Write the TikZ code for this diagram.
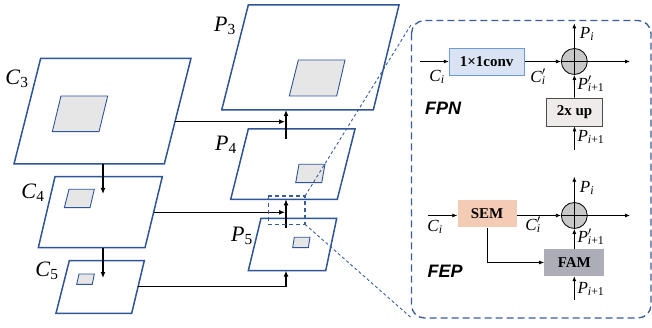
\documentclass[tikz,border=0pt]{standalone}
\usepackage{fontspec}
\setmainfont{Liberation Serif}
\setsansfont{Liberation Sans}
\usetikzlibrary{arrows.meta}
\definecolor{pblue}{HTML}{2F5597}
\definecolor{dblue}{HTML}{3B5C9A}
\definecolor{sqgray}{HTML}{E6E6E6}
\definecolor{convfill}{HTML}{DAE3F3}
\definecolor{convdraw}{HTML}{6F9BD8}
\definecolor{upfill}{HTML}{EFEBEB}
\definecolor{semfill}{HTML}{F4CBB5}
\definecolor{famfill}{HTML}{ADADB8}
\definecolor{circfill}{HTML}{C8C8C8}
\newcommand{\biglbl}[2]{{\fontsize{22}{22}\selectfont\textit{#1}\textsubscript{#2}}}
\newcommand{\sml}[2]{{\fontsize{17}{17}\selectfont\textit{#1}\textsubscript{#2}}}
\newcommand{\smlp}[2]{{\fontsize{17}{17}\selectfont\textit{#1}\rlap{\textsuperscript{$\prime$}}\textsubscript{#2}}}
\begin{document}
\begin{tikzpicture}[x=1pt,y=-1pt,
  plane/.style={draw=pblue,line width=1.5pt,fill=white,line join=miter},
  inner/.style={draw=pblue,line width=0.9pt,fill=sqgray},
  link/.style={draw=black,line width=1.2pt,-{Latex[length=6pt,width=5pt]}},
  flow/.style={draw=black,line width=0.8pt,-{Latex[length=5pt,width=4pt]}},
  opbox/.style={font=\fontsize{15}{15}\selectfont\bfseries,inner sep=0pt,anchor=center},
  tag/.style={font=\sffamily\bfseries\itshape\fontsize{18}{18}\selectfont},
  zoomline/.style={draw=dblue,line width=0.9pt,dash pattern=on 3pt off 2.5pt}]
\useasboundingbox (0,0) rectangle (652,328);

% ---------- C planes ----------
\draw[plane] (40.7,58.3) -- (191,58.3) -- (164.3,164) -- (14,164) -- cycle;
\draw[inner] (61,96) -- (107.7,96) -- (99,131.7) -- (52.3,131.7) -- cycle;
\draw[plane] (55,176.7) -- (162.3,176.7) -- (145,247.7) -- (38.3,247.7) -- cycle;
\draw[inner] (69,189.3) -- (94.3,189.3) -- (90,207.7) -- (64.3,207.7) -- cycle;
\draw[plane] (69.3,260.7) -- (144.3,260.7) -- (131.7,313.3) -- (56,313.3) -- cycle;
\draw[inner] (79,274) -- (94.3,274) -- (92.3,284.3) -- (76.7,284.3) -- cycle;

\node (lc3) at (17,79) {\biglbl{C}{3}};
\node (lc4) at (33,193) {\biglbl{C}{4}};
\node (lc5) at (47,271) {\biglbl{C}{5}};

\coordinate (c3b) at (103,164);
\coordinate (c4t) at (103,194);
\coordinate (c4b) at (103,247.7);
\coordinate (c5t) at (103,278);
\draw[link] (c3b) -- (c4t);
\draw[link] (c4b) -- (c5t);

% ---------- P planes ----------
\draw[plane] (248.3,5) -- (399,5) -- (373.3,110) -- (221.7,110) -- cycle;
\draw[inner] (298.3,60) -- (345,60) -- (336.7,96) -- (289.3,96) -- cycle;
\draw[plane] (248.3,129) -- (355,129) -- (337.3,199.3) -- (230.7,199.3) -- cycle;
\draw[inner] (299,164.3) -- (325,164.3) -- (321.7,182.7) -- (295.7,182.7) -- cycle;
\draw[plane] (261,218.3) -- (336.7,218.3) -- (325.7,270.7) -- (248.3,270.7) -- cycle;
\draw[inner] (294.3,237.3) -- (310,237.3) -- (308.3,247.7) -- (292.7,247.7) -- cycle;

\node (lp3) at (225,26) {\biglbl{P}{3}};
\node (lp4) at (226,145) {\biglbl{P}{4}};
\node (lp5) at (242,236) {\biglbl{P}{5}};

% lateral connections
\coordinate (c3r) at (175,121.7);
\coordinate (p3j) at (285,121.7);
\coordinate (c4r) at (153.6,212.3);
\coordinate (p4j) at (285,212.3);
\coordinate (c5r) at (138.1,286.7);
\coordinate (p5b) at (286,270.7);
\coordinate (p4u) at (286,139.3);
\coordinate (p3b) at (286,110);
\coordinate (p5u) at (286,228.3);
\coordinate (p4b) at (286,199.3);
\draw[link] (c3r) -- (p3j);
\draw[link] (p4u) -- (p3b);
\draw[link] (c4r) -- (p4j);
\draw[link] (p5u) -- (p4b);
\draw[link] (c5r) -| (p5b);

% small dashed box and zoom lines
\draw[draw=dblue,line width=1.1pt,dash pattern=on 4pt off 3pt] (268.3,196) rectangle (305,224.3);
\coordinate (zb1) at (305,196);
\coordinate (zb2) at (305,224.3);
\coordinate (zp1) at (411.5,24);
\coordinate (zp2) at (411.5,318);
\draw[zoomline] (zb1) -- (zp1);
\draw[zoomline] (zb2) -- (zp2);

% big dashed panel
\draw[draw=dblue,line width=1.3pt,dash pattern=on 7pt off 4pt,rounded corners=13pt] (411.5,20.5) rectangle (651,318);

% ---------- FPN ----------
\node[opbox,draw=convdraw,fill=convfill,line width=0.8pt,minimum width=75pt,minimum height=27pt] (conv) at (486.7,61.5) {1×1conv};
\node[circle,draw=black,fill=circfill,line width=0.8pt,minimum size=26pt,inner sep=0pt] (add1) at (574.3,61.5) {};
\draw[line width=0.8pt] (add1.north) -- (add1.south) (add1.west) -- (add1.east);
\node[opbox,draw=black!70,fill=upfill,line width=0.8pt,minimum width=56pt,minimum height=28pt] (up) at (574.5,112) {2x up};
\coordinate (in1) at (420,61.5);
\coordinate (out1) at (630,61.5);
\coordinate (top1) at (574.3,23.3);
\coordinate (bot1) at (574.5,150);
\draw[flow] (in1) -- (conv);
\draw[flow] (conv) -- (add1);
\draw[flow] (add1) -- (out1);
\draw[flow] (add1) -- (top1);
\draw[flow] (up) -- (add1);
\draw[flow] (bot1) -- (up);
\node (fci) at (437,77) {\sml{C}{\textit{i}}};
\node (fcp) at (538,77) {\smlp{C}{\textit{i}}};
\node (fpi) at (587,34) {\sml{P}{\textit{i}}};
\node (fpp) at (591,84) {\smlp{P}{\textit{i}+1}};
\node (fpn) at (591,137) {\sml{P}{\textit{i}+1}};
\node[tag] (fpnt) at (443,108) {FPN};

% ---------- FEP ----------
\node[opbox,fill=semfill,minimum width=59pt,minimum height=27pt] (sem) at (487,214) {SEM};
\node[circle,draw=black,fill=circfill,line width=0.8pt,minimum size=26pt,inner sep=0pt] (add2) at (574.3,215.5) {};
\draw[line width=0.8pt] (add2.north) -- (add2.south) (add2.west) -- (add2.east);
\node[opbox,fill=famfill,minimum width=60pt,minimum height=27pt] (fam) at (574.3,262.5) {FAM};
\coordinate (in2) at (428.3,215.5);
\coordinate (out2) at (630,215.5);
\coordinate (top2) at (574.3,176.7);
\coordinate (bot2) at (574.3,300);
\draw[flow] (in2) -- (in2 -| sem.west);
\draw[flow] (sem.east |- add2) -- (add2);
\draw[flow] (add2) -- (out2);
\draw[flow] (add2) -- (top2);
\draw[flow] (fam) -- (add2);
\draw[flow] (bot2) -- (fam);
\draw[flow] (sem.south) |- (fam.west);
\node (eci) at (435,227) {\sml{C}{\textit{i}}};
\node (ecp) at (533,225) {\smlp{C}{\textit{i}}};
\node (epi) at (587,188) {\sml{P}{\textit{i}}};
\node (epp) at (591,237) {\smlp{P}{\textit{i}+1}};
\node (epn) at (591,289) {\sml{P}{\textit{i}+1}};
\node[tag] (fept) at (445,271) {FEP};
\end{tikzpicture}
\end{document}
